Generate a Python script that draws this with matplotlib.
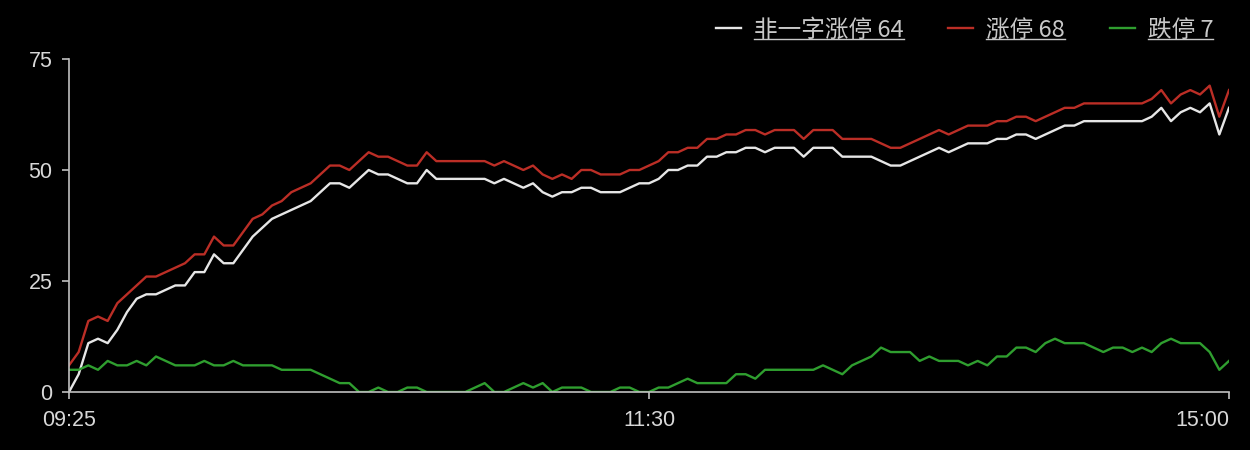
import matplotlib
matplotlib.use("Agg")
import matplotlib.pyplot as plt
from matplotlib.lines import Line2D

# minutes since 09:25 (09:25, 09:31..11:30, 13:01..15:00 -> 0..240), sampled every 2 min
minutes = list(range(0, 241, 2))

zt = [6, 9, 16, 17, 16, 20, 22, 24, 26, 26,
      27, 28, 29, 31, 31, 35, 33, 33, 36, 39,
      40, 42, 43, 45, 46, 47, 49, 51, 51, 50,
      52, 54, 53, 53, 52, 51, 51, 54, 52, 52,
      52, 52, 52, 52, 51, 52, 51, 50, 51, 49,
      48, 49, 48, 50, 50, 49, 49, 49, 50, 50,
      51, 52, 54, 54, 55, 55, 57, 57, 58, 58,
      59, 59, 58, 59, 59, 59, 57, 59, 59, 59,
      57, 57, 57, 57, 56, 55, 55, 56, 57, 58,
      59, 58, 59, 60, 60, 60, 61, 61, 62, 62,
      61, 62, 63, 64, 64, 65, 65, 65, 65, 65,
      65, 65, 66, 68, 65, 67, 68, 67, 69, 62, 68]

fyz = [0, 4, 11, 12, 11, 14, 18, 21, 22, 22,
       23, 24, 24, 27, 27, 31, 29, 29, 32, 35,
       37, 39, 40, 41, 42, 43, 45, 47, 47, 46,
       48, 50, 49, 49, 48, 47, 47, 50, 48, 48,
       48, 48, 48, 48, 47, 48, 47, 46, 47, 45,
       44, 45, 45, 46, 46, 45, 45, 45, 46, 47,
       47, 48, 50, 50, 51, 51, 53, 53, 54, 54,
       55, 55, 54, 55, 55, 55, 53, 55, 55, 55,
       53, 53, 53, 53, 52, 51, 51, 52, 53, 54,
       55, 54, 55, 56, 56, 56, 57, 57, 58, 58,
       57, 58, 59, 60, 60, 61, 61, 61, 61, 61,
       61, 61, 62, 64, 61, 63, 64, 63, 65, 58, 64]

dt = [5, 5, 6, 5, 7, 6, 6, 7, 6, 8,
      7, 6, 6, 6, 7, 6, 6, 7, 6, 6,
      6, 6, 5, 5, 5, 5, 4, 3, 2, 2,
      0, 0, 1, 0, 0, 1, 1, 0, 0, 0,
      0, 0, 1, 2, 0, 0, 1, 2, 1, 2,
      0, 1, 1, 1, 0, 0, 0, 1, 1, 0,
      0, 1, 1, 2, 3, 2, 2, 2, 2, 4,
      4, 3, 5, 5, 5, 5, 5, 5, 6, 5,
      4, 6, 7, 8, 10, 9, 9, 9, 7, 8,
      7, 7, 7, 6, 7, 6, 8, 8, 10, 10,
      9, 11, 12, 11, 11, 11, 10, 9, 10, 10,
      9, 10, 9, 11, 12, 11, 11, 11, 9, 5, 7]

labels = ["非一字涨停 64", "涨停 68", "跌停 7"]
xticks = [0, 120, 240]
xticklabels = ["09:25", "11:30", "15:00"]
yticks = [0, 25, 50, 75]

fig = plt.figure(figsize=(12.5, 4.5), dpi=100, facecolor="black")
ax = fig.add_axes([0.0552, 0.1289, 0.928, 0.74])
ax.set_facecolor("black")

l1, = ax.plot(minutes, fyz, color="#e6e6e6", lw=1.7)
l2, = ax.plot(minutes, zt, color="#bb2e26", lw=1.7)
l3, = ax.plot(minutes, dt, color="#2f9e2f", lw=1.7)

ax.set_xlim(0, 240)
ax.set_ylim(0, 75)
ax.set_xticks(xticks)
ax.set_xticklabels(xticklabels)
ax.set_yticks(yticks)

for s in ["top", "right"]:
    ax.spines[s].set_visible(False)
for s in ["left", "bottom"]:
    ax.spines[s].set_color("#c0c0c0")
    ax.spines[s].set_linewidth(1.2)
ax.tick_params(colors="#c0c0c0", length=5, width=1.2)
ax.tick_params(axis="y", pad=7)
ax.tick_params(axis="x", pad=8)
for t in ax.get_xticklabels() + ax.get_yticklabels():
    t.set_color("#d8d8d8")
    t.set_fontsize(15.5)
    t.set_fontfamily("Liberation Sans")
# last label sits against the right edge
ax.get_xticklabels()[-1].set_horizontalalignment("right")

leg = fig.legend([l1, l2, l3], labels, loc="upper right", bbox_to_anchor=(0.98, 0.985),
                 ncol=3, frameon=False, handlelength=1.05, handletextpad=0.55,
                 columnspacing=1.9, borderpad=0,
                 prop={"family": ["Noto Sans CJK SC", "DejaVu Sans"], "size": 17})
for t in leg.get_texts():
    t.set_color("#c8c8c8")

# underline legend texts
fig.canvas.draw()
renderer = fig.canvas.get_renderer()
inv = fig.transFigure.inverted()
for t in leg.get_texts():
    bb = t.get_window_extent(renderer)
    (x0, y0), (x1, _) = inv.transform([[bb.x0, bb.y0 + 3], [bb.x1, bb.y0]])
    fig.add_artist(Line2D([x0, x1], [y0, y0], transform=fig.transFigure,
                          color="#c8c8c8", lw=1.0))

fig.savefig("out.png", dpi=100, facecolor="black")
